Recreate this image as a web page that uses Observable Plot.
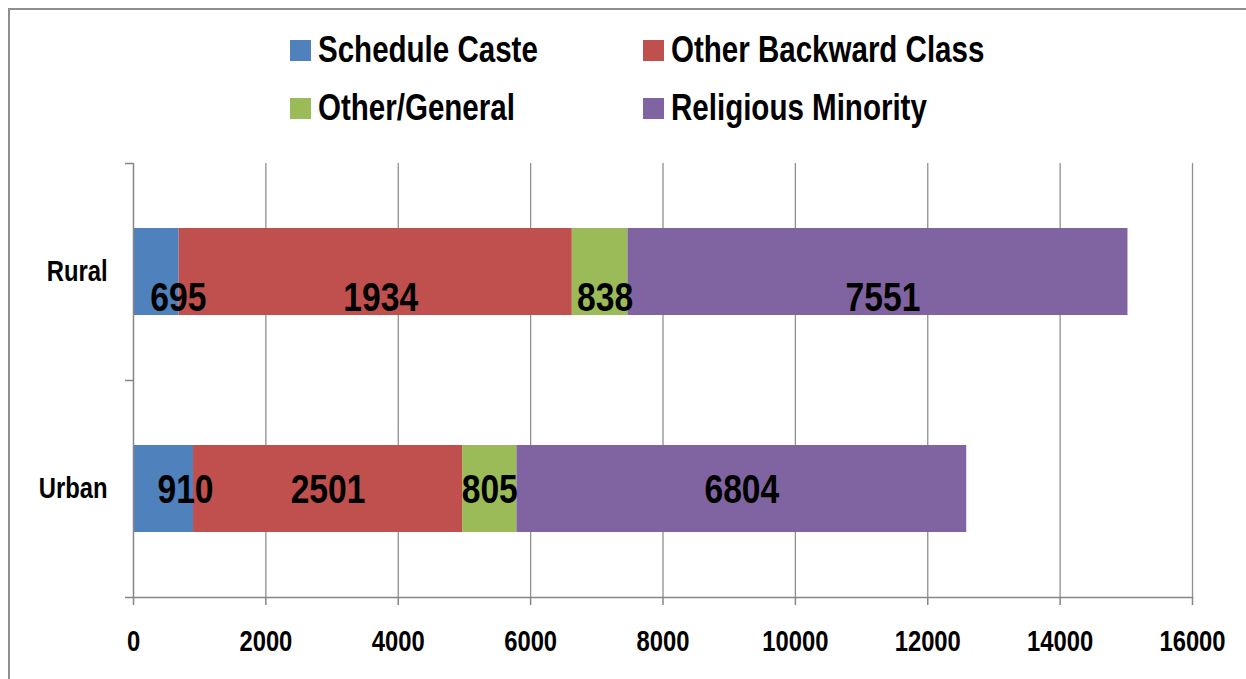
<!DOCTYPE html>
<html>
<head>
<meta charset="utf-8">
<script src="https://cdn.jsdelivr.net/npm/d3@7"></script>
<script src="https://cdn.jsdelivr.net/npm/@observablehq/plot@0.6"></script>
<style>
  html, body { margin: 0; padding: 0; background: #fff; }
  #wrap { position: relative; width: 1246px; height: 679px; overflow: hidden; background: #fff;
          font-family: "Liberation Sans", Arial, sans-serif; font-weight: bold; }
  #border { position: absolute; left: 8px; top: 8px; width: 1300px; height: 700px; border: 2px solid #8e8e8e; pointer-events: none; }
  #legend { position: relative; height: 140px; box-sizing: border-box; padding-left: 290px; padding-top: 21px;
            display: grid; grid-template-columns: 353px auto; grid-auto-rows: 58px; }
  .item { display: flex; align-items: center; font-size: 36px; color: #000; white-space: nowrap; }
  .item .tx { display: inline-block; transform: scaleX(0.82); transform-origin: left center; }
  .sw { width: 21px; height: 21px; margin-right: 7px; flex: none; }
  #chart svg { display: block; }
</style>
</head>
<body>
<div id="wrap">
  <div id="legend"></div>
  <div id="chart"></div>
  <div id="border"></div>
</div>
<script>
// ---- data ----
const areas = ["Rural", "Urban"];
const groups = ["Schedule Caste", "Other Backward Class", "Other/General", "Religious Minority"];
const colors = ["#4F81BD", "#C0504D", "#9BBB59", "#8064A2"];
// bar lengths as drawn in the picture
const ruralValues = [690, 5940, 840, 7555];
const urbanValues = [907, 4065, 821, 6796];
// data labels as printed on the bars
const ruralLabels = ["695", "1934", "838", "7551"];
const urbanLabels = ["910", "2501", "805", "6804"];
const xTicks = [0, 2000, 4000, 6000, 8000, 10000, 12000, 14000, 16000];

const NARROW = 0.82; // emulate a narrow face by horizontal compression

// ---- legend ----
const legend = document.getElementById("legend");
groups.forEach((g, i) => {
  const it = document.createElement("div");
  it.className = "item";
  const sw = document.createElement("span");
  sw.className = "sw";
  sw.style.background = colors[i];
  const tx = document.createElement("span");
  tx.className = "tx";
  tx.textContent = g;
  it.appendChild(sw);
  it.appendChild(tx);
  legend.appendChild(it);
});

// ---- rows ----
const allValues = [ruralValues, urbanValues];
const allLabels = [ruralLabels, urbanLabels];
const rows = areas.flatMap((a, i) => {
  const vals = allValues[i];
  const ends = d3.cumsum(vals);
  return groups.map((g, j) => ({area: a, group: g, x1: ends[j] - vals[j], x2: ends[j], label: allLabels[i][j]}));
});
const mid = d => (d.x1 + d.x2) / 2;
const axisColor = "#868686";
const labelFont = 41;

const sel = (area, first) => rows.filter(d => d.area === area && ((d.group === groups[0]) === first));

const plot = Plot.plot({
  width: 1246,
  height: 539,
  marginLeft: 133,
  marginRight: 54,
  marginTop: 23,
  marginBottom: 82,
  style: {fontFamily: '"Liberation Sans", Arial, sans-serif', fontWeight: "bold", color: "#000", background: "transparent"},
  x: {domain: [0, 16000]},
  y: {domain: areas, paddingInner: 0.6, paddingOuter: 0.3},
  color: {domain: groups, range: colors},
  marks: [
    Plot.gridX(xTicks.slice(1), {stroke: "#8f8f8f", strokeOpacity: 1, strokeWidth: 1.3}),
    Plot.barX(rows, {x1: "x1", x2: "x2", y: "area", fill: "group"}),
    Plot.ruleX([0], {stroke: axisColor, strokeWidth: 1.5}),
    Plot.frame({anchor: "bottom", stroke: axisColor, strokeWidth: 1.5}),
    Plot.axisX(xTicks, {tickSize: 8, tickPadding: 25, stroke: axisColor, strokeWidth: 1.5, fontSize: 29, fill: "#000", label: null, tickFormat: d => String(d)}),
    Plot.axisY({tickSize: 0, tickPadding: 26, fontSize: 29, fill: "#000", label: null}),
    Plot.axisY(areas, {text: null, tickSize: 8, dy: -108.5, stroke: axisColor, strokeWidth: 1.5, label: null}),
    Plot.axisY([areas[areas.length - 1]], {text: null, tickSize: 8, dy: 108.5, stroke: axisColor, strokeWidth: 1.5, label: null}),
    Plot.text(sel("Rural", true), {x: mid, y: "area", text: "label", dx: 22, dy: 26, fontSize: labelFont, fontWeight: "bold", fill: "#000"}),
    Plot.text(sel("Rural", false), {x: mid, y: "area", text: "label", dx: 5, dy: 26, fontSize: labelFont, fontWeight: "bold", fill: "#000"}),
    Plot.text(sel("Urban", true), {x: mid, y: "area", text: "label", dx: 22, dy: 1, fontSize: labelFont, fontWeight: "bold", fill: "#000"}),
    Plot.text(sel("Urban", false), {x: mid, y: "area", text: "label", dy: 1, fontSize: labelFont, fontWeight: "bold", fill: "#000"})
  ]
});

document.getElementById("chart").appendChild(plot);

// compress every svg text horizontally (narrow face look), keeping its anchor
plot.querySelectorAll("text").forEach(el => {
  const len = el.getComputedTextLength();
  if (len > 0) {
    el.setAttribute("textLength", (len * NARROW).toFixed(2));
    el.setAttribute("lengthAdjust", "spacingAndGlyphs");
  }
});
</script>
</body>
</html>
